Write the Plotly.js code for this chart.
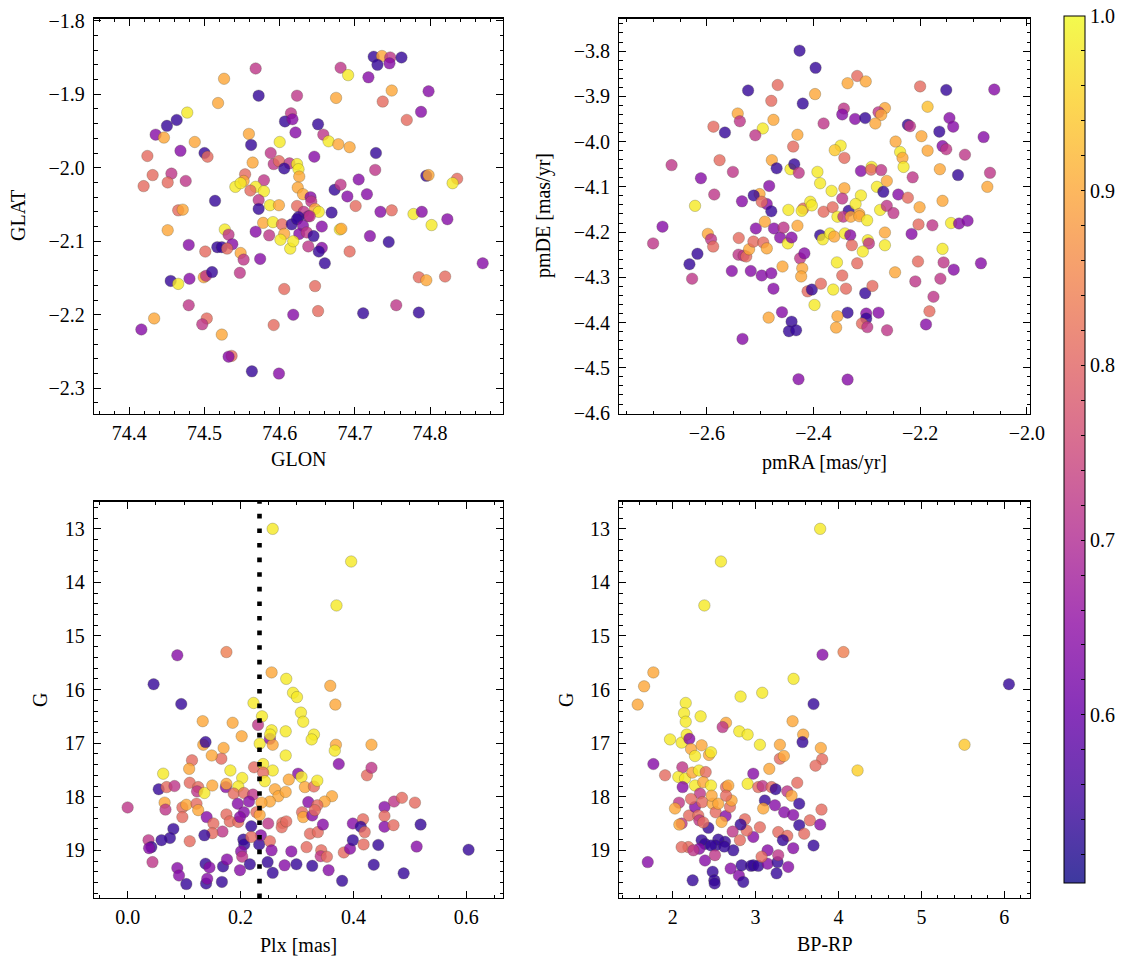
<!DOCTYPE html>
<html>
<head>
<meta charset="utf-8">
<script src="https://cdn.plot.ly/plotly-3.0.1.min.js"></script>
<style>html,body{margin:0;padding:0;background:#fff;}#chart{width:1133px;height:965px;}</style>
</head>
<body>
<div id="chart"></div>
<script>
// ---------------- DATA ----------------
// Panel A: sky position
const glon = [74.725,74.736,74.747,74.730,74.746,74.762,74.568,74.681,74.691,74.718,74.526,74.749,74.798,74.572,74.623,74.675,74.737,74.518,74.477,74.788,
74.615,74.607,74.617,74.769,74.463,74.450,74.651,74.435,74.446,74.621,74.658,74.559,74.600,74.665,74.678,74.487,74.693,74.562,74.468,74.500,
74.504,74.424,74.728,74.588,74.646,74.564,74.592,74.599,74.613,74.623,74.606,74.625,74.626,74.727,74.431,74.456,74.554,74.419,74.451,74.475,
74.795,74.798,74.836,74.830,74.705,74.552,74.541,74.579,74.548,74.568,74.579,74.561,74.624,74.673,74.681,74.690,74.716,74.631,74.641,74.642,
74.514,74.572,74.587,74.599,74.572,74.465,74.471,74.623,74.647,74.652,74.669,74.701,74.734,74.749,74.778,74.789,74.823,74.632,74.638,74.625,
74.451,74.527,74.532,74.578,74.591,74.603,74.616,74.623,74.631,74.640,74.656,74.568,74.586,74.606,74.626,74.636,74.645,74.601,74.614,74.618,
74.638,74.656,74.652,74.660,74.680,74.682,74.720,74.745,74.802,74.479,74.517,74.523,74.537,74.530,74.548,74.552,74.574,74.501,74.693,74.870,
74.455,74.465,74.480,74.499,74.502,74.510,74.547,74.606,74.647,74.785,74.795,74.820,74.479,74.755,74.433,74.416,74.503,74.497,74.523,74.592,
74.618,74.651,74.711,74.785,74.536,74.532,74.563,74.599];
const glat = [-1.849,-1.848,-1.850,-1.860,-1.858,-1.850,-1.865,-1.864,-1.874,-1.877,-1.879,-1.895,-1.896,-1.902,-1.902,-1.905,-1.910,-1.912,-1.925,-1.924,
-1.926,-1.937,-1.934,-1.935,-1.935,-1.943,-1.941,-1.955,-1.959,-1.952,-1.955,-1.954,-1.965,-1.964,-1.968,-1.965,-1.972,-1.969,-1.977,-1.980,
-1.985,-1.984,-1.980,-1.980,-1.985,-1.993,-1.995,-1.991,-1.994,-1.995,-2.001,-2.002,-2.012,-2.003,-2.010,-2.008,-2.009,-2.025,-2.020,-2.018,
-2.011,-2.010,-2.015,-2.021,-2.016,-2.018,-2.026,-2.017,-2.021,-2.026,-2.032,-2.031,-2.027,-2.030,-2.023,-2.039,-2.036,-2.036,-2.040,-2.046,
-2.045,-2.044,-2.051,-2.051,-2.056,-2.058,-2.057,-2.052,-2.056,-2.060,-2.061,-2.052,-2.060,-2.058,-2.063,-2.060,-2.070,-2.060,-2.066,-2.067,
-2.085,-2.084,-2.091,-2.075,-2.074,-2.077,-2.077,-2.070,-2.079,-2.066,-2.080,-2.087,-2.092,-2.090,-2.090,-2.088,-2.093,-2.098,-2.110,-2.100,
-2.107,-2.109,-2.114,-2.130,-2.084,-2.083,-2.093,-2.101,-2.078,-2.105,-2.108,-2.108,-2.104,-2.110,-2.116,-2.125,-2.124,-2.114,-2.114,-2.130,
-2.154,-2.158,-2.151,-2.149,-2.147,-2.142,-2.143,-2.165,-2.161,-2.149,-2.153,-2.148,-2.187,-2.187,-2.205,-2.220,-2.205,-2.213,-2.227,-2.214,
-2.200,-2.195,-2.198,-2.197,-2.256,-2.257,-2.277,-2.280];
const probSky = [0.54,0.90,0.72,0.54,0.64,0.54,0.72,0.72,0.98,0.64,0.90,0.90,0.64,0.54,0.72,0.90,0.81,0.90,0.98,0.64,
0.72,0.54,0.64,0.81,0.54,0.54,0.54,0.64,0.90,0.64,0.72,0.90,0.98,0.98,0.90,0.90,0.90,0.54,0.64,0.54,
0.81,0.81,0.54,0.72,0.64,0.90,0.72,0.81,0.72,0.98,0.54,0.98,0.90,0.72,0.81,0.72,0.81,0.81,0.81,0.72,
0.54,0.90,0.81,0.98,0.64,0.90,0.98,0.72,0.98,0.98,0.98,0.81,0.90,0.54,0.72,0.64,0.64,0.90,0.64,0.72,
0.54,0.72,0.98,0.90,0.54,0.81,0.90,0.81,0.90,0.98,0.54,0.81,0.64,0.81,0.98,0.64,0.64,0.72,0.64,0.54,
0.90,0.98,0.72,0.90,0.98,0.81,0.54,0.54,0.64,0.72,0.64,0.64,0.72,0.90,0.64,0.72,0.54,0.98,0.98,0.98,
0.72,0.64,0.54,0.54,0.98,0.90,0.64,0.54,0.98,0.64,0.54,0.54,0.64,0.81,0.90,0.72,0.64,0.81,0.81,0.64,
0.54,0.98,0.64,0.90,0.72,0.54,0.72,0.81,0.81,0.81,0.90,0.81,0.72,0.72,0.90,0.64,0.81,0.72,0.90,0.81,
0.64,0.81,0.54,0.54,0.81,0.64,0.54,0.64];

// Panel B: proper motions
const pmra = [-2.426,-2.396,-2.318,-2.336,-2.302,-2.467,-2.5225,-2.200,-2.151,-2.061,-2.397,-2.479,-2.420,-2.186,-2.343,-2.346,-2.266,-2.278,-2.273,-2.542,
-2.538,-2.475,-2.322,-2.303,-2.284,-2.381,-2.5875,-2.566,-2.495,-2.509,-2.430,-2.223,-2.219,-2.164,-2.145,-2.138,-2.1975,-2.081,-2.246,-2.349,
-2.360,-2.438,-2.342,-2.2375,-2.233,-2.231,-2.186,-2.158,-2.151,-2.116,-2.666,-2.576,-2.551,-2.611,-2.478,-2.469,-2.443,-2.436,-2.4275,-2.3925,
-2.3875,-2.311,-2.291,-2.292,-2.273,-2.2625,-2.214,-2.163,-2.129,-2.069,-2.074,-2.281,-2.269,-2.241,-2.223,-2.366,-2.342,-2.311,-2.346,-2.483,
-2.501,-2.512,-2.586,-2.534,-2.622,-2.4875,-2.497,-2.479,-2.447,-2.419,-2.422,-2.406,-2.403,-2.381,-2.364,-2.334,-2.321,-2.314,-2.275,-2.2625,
-2.250,-2.201,-2.158,
-2.683,-2.7006,-2.598,-2.592,-2.588,-2.6175,-2.6325,-2.6275,-2.553,-2.540,-2.5406,-2.531,-2.526,-2.5206,-2.5125,-2.508,-2.5175,-2.497,-2.494,-2.4875,
-2.491,-2.479,-2.475,-2.474,-2.4625,-2.456,-2.458,-2.448,-2.441,-2.430,-2.425,-2.417,-2.421,-2.423,-2.411,-2.403,-2.398,-2.386,-2.3875,-2.3825,
-2.369,-2.361,-2.355,-2.344,-2.330,-2.341,-2.331,-2.328,-2.318,-2.356,-2.346,-2.363,-2.339,-2.314,-2.2994,-2.2981,-2.296,-2.3075,-2.303,-2.2894,
-2.266,-2.266,-2.247,-2.216,-2.203,-2.177,-2.142,-2.127,-2.111,-2.158,-2.156,-2.137,-2.086,-2.204,-2.209,-2.162,-2.175,-2.1825,-2.189,-2.278,
-2.301,-2.301,-2.309,-2.299,-2.262,-2.336,-2.355,-2.3575,-2.459,-2.441,-2.446,-2.4325,-2.484,-2.533,-2.428,-2.336];
const pmde = [-3.799,-3.837,-3.855,-3.871,-3.867,-3.875,-3.887,-3.878,-3.886,-3.885,-3.895,-3.910,-3.916,-3.923,-3.927,-3.940,-3.926,-3.935,-3.941,-3.938,
-3.955,-3.952,-3.950,-3.948,-3.960,-3.960,-3.967,-3.980,-3.971,-3.986,-3.985,-3.963,-3.966,-3.978,-3.948,-3.967,-3.988,-3.990,-4.000,-4.009,
-4.019,-4.011,-4.036,-4.023,-4.036,-4.056,-4.020,-4.010,-4.017,-4.029,-4.052,-4.041,-4.067,-4.081,-4.041,-4.059,-4.061,-4.050,-4.069,-4.067,
-4.092,-4.065,-4.056,-4.062,-4.063,-4.087,-4.079,-4.061,-4.074,-4.069,-4.100,-4.100,-4.111,-4.117,-4.124,-4.109,-4.103,-4.119,-4.126,-4.098,
-4.116,-4.119,-4.117,-4.132,-4.142,-4.138,-4.133,-4.154,-4.151,-4.148,-4.153,-4.133,-4.141,-4.155,-4.145,-4.153,-4.138,-4.160,-4.151,-4.142,
-4.158,-4.145,-4.131,
-4.188,-4.225,-4.204,-4.216,-4.232,-4.248,-4.271,-4.303,-4.286,-4.213,-4.250,-4.252,-4.254,-4.238,-4.221,-4.192,-4.286,-4.296,-4.223,-4.236,
-4.177,-4.291,-4.325,-4.192,-4.212,-4.190,-4.276,-4.225,-4.212,-4.186,-4.258,-4.247,-4.280,-4.298,-4.331,-4.327,-4.361,-4.314,-4.207,-4.216,
-4.203,-4.210,-4.166,-4.166,-4.166,-4.203,-4.207,-4.229,-4.269,-4.267,-4.296,-4.327,-4.325,-4.165,-4.174,-4.218,-4.225,-4.243,-4.335,-4.319,
-4.201,-4.229,-4.289,-4.204,-4.183,-4.185,-4.180,-4.181,-4.175,-4.237,-4.267,-4.283,-4.269,-4.265,-4.309,-4.303,-4.343,-4.375,-4.404,-4.378,
-4.380,-4.391,-4.402,-4.410,-4.417,-4.378,-4.386,-4.411,-4.377,-4.398,-4.419,-4.417,-4.389,-4.436,-4.525,-4.526];
const probPm = [0.54,0.54,0.81,0.90,0.90,0.81,0.54,0.81,0.54,0.64,0.90,0.81,0.54,0.93,0.72,0.64,0.90,0.72,0.90,0.90,
0.72,0.90,0.64,0.54,0.90,0.72,0.81,0.54,0.98,0.72,0.90,0.54,0.72,0.54,0.64,0.64,0.90,0.64,0.90,0.98,
0.94,0.81,0.81,0.98,0.90,0.98,0.90,0.64,0.72,0.72,0.72,0.81,0.72,0.64,0.90,0.54,0.98,0.54,0.72,0.98,
0.98,0.64,0.98,0.81,0.72,0.90,0.72,0.90,0.54,0.72,0.90,0.98,0.54,0.64,0.81,0.98,0.90,0.98,0.72,0.64,
0.90,0.54,0.72,0.64,0.98,0.64,0.81,0.54,0.98,0.81,0.98,0.98,0.98,0.81,0.81,0.54,0.98,0.90,0.98,0.72,
0.72,0.90,0.90,
0.64,0.72,0.90,0.72,0.81,0.54,0.54,0.72,0.64,0.81,0.72,0.72,0.81,0.90,0.81,0.64,0.64,0.64,0.81,0.90,
0.90,0.64,0.64,0.64,0.64,0.72,0.90,0.98,0.64,0.90,0.72,0.64,0.90,0.90,0.81,0.54,0.98,0.81,0.54,0.98,
0.98,0.90,0.98,0.72,0.90,0.98,0.64,0.81,0.81,0.98,0.81,0.98,0.81,0.90,0.98,0.98,0.72,0.98,0.54,0.81,
0.90,0.98,0.90,0.64,0.81,0.72,0.98,0.64,0.64,0.98,0.72,0.64,0.64,0.81,0.72,0.72,0.72,0.81,0.64,0.64,
0.64,0.54,0.81,0.72,0.72,0.54,0.90,0.90,0.64,0.54,0.54,0.54,0.90,0.64,0.64,0.64];

// Panel C: parallax vs G
const plx = [0.257,0.396,0.370,0.088,0.175,0.046,0.095,0.255,0.281,0.293,0.300,0.359,0.368,0.223,0.238,0.307,0.311,0.133,0.186,0.231,
0.255,0.280,0.202,0.234,0.252,0.257,0.2525,0.330,0.326,0.369,0.367,0.432,0.134,0.138,0.170,0.166,0.149,0.114,0.109,0.063,
0.182,0.203,0.224,0.240,0.257,0.240,0.243,0.280,0.302,0.308,0.2855,0.314,0.330,0.336,0.374,0.424,0.432,0.055,0.069,0.083,
0.110,0.125,0.123,0.136,0.150,0.174,0.175,0.196,0.188,0.206,0.222,0.261,0.267,0.280,0.252,0.237,0.362,0.349,0.320,0.336,
0.000,0.0655,0.067,0.097,0.104,0.122,0.125,0.140,0.195,0.215,0.206,0.228,0.234,0.175,0.181,0.196,0.199,0.152,0.097,0.309,
0.311,0.327,0.3316,0.274,0.273,0.281,0.249,0.219,0.168,0.150,0.136,0.110,0.081,0.075,0.060,0.037,0.042,0.038,0.044,0.088,
0.091,0.104,0.139,0.141,0.138,0.145,0.167,0.169,0.176,0.199,0.205,0.2065,0.201,0.203,0.2165,0.233,0.236,0.219,0.252,0.255,
0.248,0.257,0.278,0.290,0.299,0.317,0.327,0.323,0.337,0.346,0.343,0.342,0.353,0.356,0.380,0.383,0.394,0.399,0.399,0.417,
0.413,0.420,0.418,0.444,0.436,0.455,0.455,0.455,0.471,0.472,0.486,0.509,0.519,0.512,0.489,0.604];
const gPlx = [13.00,13.61,14.43,15.36,15.30,15.90,16.27,15.68,15.80,16.06,16.14,15.93,16.28,16.25,16.50,16.43,16.60,16.59,16.62,16.66,
16.76,16.78,16.87,17.01,16.92,17.03,16.84,16.84,16.93,17.03,17.14,17.03,17.03,16.98,17.09,17.29,17.23,17.32,17.48,17.57,
17.51,17.65,17.45,17.39,17.51,17.55,17.71,17.23,17.57,17.63,17.68,17.82,17.81,17.70,17.39,17.60,17.46,17.86,17.82,17.80,
17.74,17.82,17.90,17.93,17.79,17.82,17.76,17.81,17.94,17.93,17.96,17.86,17.99,17.91,18.09,18.11,17.99,18.09,18.10,18.16,
18.20,18.11,18.24,18.20,18.15,18.13,18.25,18.38,18.13,18.09,18.29,18.29,18.34,18.33,18.46,18.47,18.38,18.50,18.38,18.29,
18.38,18.35,18.25,18.49,18.57,18.46,18.50,18.55,18.65,18.68,18.72,18.83,18.60,18.77,18.81,18.81,18.94,18.96,19.22,19.33,
19.47,19.63,19.62,19.53,19.25,19.32,19.59,19.30,19.17,19.37,18.80,18.89,19.02,19.12,19.26,18.89,18.72,18.75,18.83,19.00,
19.22,19.42,19.28,19.02,19.26,18.94,19.29,18.69,18.66,18.52,19.00,19.11,19.12,19.37,19.57,19.04,18.97,18.81,18.50,18.42,
18.56,18.66,18.89,18.90,19.27,18.19,18.36,18.56,18.53,18.09,18.02,18.11,18.52,18.93,19.43,18.99];
const probPlx = [0.98,0.98,0.98,0.64,0.84,0.54,0.54,0.90,0.98,0.98,0.98,0.90,0.90,0.98,0.98,0.98,0.98,0.90,0.90,0.72,
0.98,0.98,0.90,0.98,0.64,0.90,0.98,0.98,0.98,0.90,0.98,0.90,0.90,0.54,0.90,0.81,0.90,0.81,0.90,0.98,
0.98,0.98,0.81,0.98,0.98,0.81,0.98,0.98,0.64,0.98,0.90,0.90,0.81,0.98,0.64,0.81,0.72,0.54,0.81,0.72,
0.81,0.81,0.72,0.98,0.90,0.64,0.90,0.98,0.81,0.81,0.72,0.90,0.90,0.90,0.90,0.90,0.90,0.90,0.64,0.81,
0.72,0.90,0.72,0.81,0.90,0.81,0.90,0.64,0.64,0.64,0.64,0.81,0.90,0.81,0.81,0.81,0.64,0.81,0.81,0.81,
0.90,0.64,0.81,0.81,0.81,0.81,0.72,0.54,0.72,0.81,0.54,0.81,0.54,0.54,0.54,0.72,0.54,0.64,0.72,0.64,
0.64,0.54,0.54,0.64,0.54,0.64,0.54,0.54,0.64,0.64,0.54,0.54,0.64,0.72,0.54,0.54,0.64,0.81,0.81,0.64,
0.54,0.54,0.64,0.64,0.54,0.81,0.54,0.81,0.81,0.64,0.81,0.72,0.81,0.64,0.54,0.81,0.64,0.54,0.64,0.81,
0.54,0.81,0.81,0.54,0.54,0.64,0.81,0.64,0.81,0.72,0.81,0.81,0.54,0.64,0.54,0.54];
const plxMean = 0.2336;

// Panel D: colour-magnitude diagram
const bprp = [3.779,2.582,2.382,3.807,4.060,6.056,1.767,1.655,1.578,3.458,3.080,2.819,2.157,2.137,2.157,2.337,3.699,3.446,2.643,2.602,
5.52,4.23,
2.803,2.904,1.968,2.108,2.169,2.201,2.221,2.349,2.269,2.438,2.462,3.052,3.293,3.574,3.566,3.787,3.293,3.341,3.803,3.723,
3.165,1.767,1.908,2.116,2.068,2.149,2.237,2.317,2.398,2.120,2.269,2.369,2.462,2.643,2.671,2.904,2.972,3.032,3.084,3.193,
3.241,3.382,3.434,3.502,3.112,3.092,3.233,3.345,3.454,3.526,3.795,3.655,3.779,3.526,3.273,3.382,3.329,3.454,3.586,3.699,
3.052,2.972,2.892,2.871,2.819,2.723,2.811,2.731,2.631,2.550,2.518,2.622,2.430,2.349,2.390,2.462,2.321,2.189,2.249,2.390,
2.510,2.482,2.502,2.506,2.241,1.699,2.699,2.799,2.851,2.831,2.944,2.972,3.032,3.145,3.145,3.072,3.265,3.253,3.394,3.273,
2.076,2.028,2.108,2.080,2.197,2.269,2.329,2.221,2.357,2.309,2.321,2.482,2.518,2.470,2.550,2.639,2.691,2.711,2.643,2.590,
2.369,2.108];
const gCmd = [13.00,13.61,14.43,15.35,15.30,15.90,15.68,15.94,16.28,15.80,16.06,16.13,16.25,16.44,16.60,16.50,16.27,16.59,16.62,16.70,
17.03,17.51,
16.78,16.84,16.93,16.99,16.84,16.92,17.11,17.04,17.24,17.22,17.17,17.03,17.03,16.84,16.98,17.09,17.29,17.24,17.30,17.42,
17.48,17.39,17.60,17.45,17.63,17.66,17.55,17.51,17.54,17.82,17.79,17.73,17.79,17.82,17.79,17.76,17.57,17.82,17.80,17.82,
17.86,17.90,17.98,17.74,18.07,18.22,18.16,18.29,18.34,18.13,18.24,18.44,18.52,18.53,18.66,18.73,18.81,18.96,18.69,18.91,
18.57,18.75,18.63,18.42,18.52,18.65,18.81,19.00,18.84,18.80,18.91,18.93,18.58,18.81,18.88,18.91,18.97,18.94,19.00,19.19,
19.09,19.40,19.56,19.62,19.56,19.22,19.34,19.47,19.59,19.28,19.29,19.28,19.29,19.25,19.00,19.12,19.22,19.43,19.31,19.09,
18.11,18.22,18.50,18.52,18.35,18.19,17.94,18.04,18.10,18.35,18.44,18.13,18.29,17.98,18.13,18.36,18.19,18.07,17.98,18.47,
18.48,18.94];
const probCmd = [0.98,0.98,0.98,0.64,0.84,0.54,0.90,0.90,0.90,0.98,0.98,0.98,0.98,0.98,0.98,0.98,0.54,0.90,0.90,0.72,
0.94,0.95,
0.98,0.98,0.98,0.98,0.98,0.64,0.90,0.90,0.98,0.90,0.98,0.98,0.90,0.90,0.54,0.90,0.81,0.90,0.81,0.81,
0.90,0.64,0.81,0.72,0.98,0.98,0.90,0.98,0.81,0.64,0.98,0.90,0.98,0.81,0.90,0.98,0.64,0.81,0.72,0.81,
0.54,0.72,0.90,0.81,0.54,0.90,0.64,0.64,0.64,0.54,0.81,0.81,0.64,0.54,0.81,0.81,0.54,0.64,0.81,0.54,
0.81,0.64,0.81,0.81,0.54,0.72,0.81,0.54,0.54,0.54,0.54,0.54,0.54,0.54,0.54,0.54,0.64,0.81,0.72,0.64,
0.72,0.54,0.54,0.54,0.54,0.64,0.64,0.64,0.54,0.54,0.54,0.54,0.54,0.64,0.64,0.81,0.54,0.54,0.64,0.72,
0.72,0.90,0.72,0.90,0.81,0.64,0.72,0.81,0.81,0.81,0.72,0.90,0.81,0.90,0.90,0.64,0.81,0.90,0.81,0.90,
0.81,0.81];

// colour scale (matplotlib "plasma", alpha 0.8) and range
const plasmaStops = ['#0d0887','#41049d','#6a00a8','#8f0da4','#b12a90','#cc4778','#e16462','#f2844b','#fca636','#fcce25','#f0f921'];
const probMin = 0.504, probMax = 1.0;
const cbarTicks = [0.52,0.54,0.56,0.58,0.6,0.62,0.64,0.66,0.68,0.7,0.72,0.74,0.76,0.78,0.8,0.82,0.84,0.86,0.88,0.9,0.92,0.94,0.96,0.98,1.0];

// ---------------- BUILD ----------------
function hexA(h, a){ const r=parseInt(h.slice(1,3),16), g=parseInt(h.slice(3,5),16), b=parseInt(h.slice(5,7),16); return `rgba(${r},${g},${b},${a})`; }
const cscale = plasmaStops.map((c,i)=>[i/(plasmaStops.length-1), hexA(c,0.8)]);
const FONT = 'Liberation Serif, Times New Roman, serif';
const W = 1133, H = 965;

function mk(x, y, p, xa, ya, showScale){
  const m = {color:p, colorscale:cscale, cmin:probMin, cmax:probMax, size:11.5,
    line:{width:0.6, color:'rgba(70,70,50,0.45)'}, showscale:!!showScale};
  if (showScale){
    m.colorbar = {x:1064/W, xanchor:'left', xpad:0, y:1-15.7/H, yanchor:'top', ypad:0,
      len:(883-15.7)/H, lenmode:'fraction', thickness:21, thicknessmode:'pixels',
      outlinewidth:1, outlinecolor:'#000', ticks:'inside', ticklen:4, tickwidth:1, tickcolor:'#000',
      tickvals:cbarTicks, ticktext:cbarTicks.map(v=>(Math.abs(v*10-Math.round(v*10))<1e-6 && v>=0.59)? v.toFixed(1):''),
      tickfont:{family:FONT, size:20, color:'#000'}};
  }
  return {type:'scatter', mode:'markers', x:x, y:y, xaxis:xa, yaxis:ya, marker:m, hoverinfo:'skip'};
}

const data = [
  mk(glon, glat, probSky, 'x', 'y', true),
  mk(pmra, pmde, probPm, 'x2', 'y2', false),
  mk(plx, gPlx, probPlx, 'x3', 'y3', false),
  mk(bprp, gCmd, probCmd, 'x4', 'y4', false)
];

function ax(domain, range, dtick, mdtick, fmt, anchor, standoff){
  return {domain:domain, range:range, anchor:anchor, dtick:dtick, tick0:0, tickformat:fmt,
    ticks:'inside', ticklen:7, tickwidth:1, tickcolor:'#000', mirror:'allticks',
    showline:true, linecolor:'#000', linewidth:1.2, showgrid:false, zeroline:false,
    tickfont:{family:FONT, size:20, color:'#000'}, ticklabelstandoff:standoff,
    minor:{ticks:'inside', ticklen:3.5, tickwidth:1, tickcolor:'#000', dtick:mdtick, tick0:0, showgrid:false}};
}
const xL=[94/W, 503/W], xR=[619.3/W, 1030/W];
const yT=[1-414/H, 1-18.5/H], yB=[1-898/H, 1-501.5/H];

const layout = {
  width:W, height:H, margin:{l:0,r:0,t:0,b:0}, paper_bgcolor:'#fff', plot_bgcolor:'#fff',
  showlegend:false, font:{family:FONT, color:'#000'},
  xaxis: ax(xL, [74.353,74.897], 0.1, 0.02, '.1f', 'y', 1),
  yaxis: ax(yT, [-2.335,-1.797], 0.1, 0.02, '.1f', 'x', 4),
  xaxis2: ax(xR, [-2.764,-1.994], 0.2, 0.05, '.1f', 'y2', 1),
  yaxis2: ax(yT, [-4.602,-3.728], 0.1, 0.02, '.1f', 'x2', 4),
  xaxis3: ax(xL, [-0.0596,0.665], 0.2, 0.05, '.1f', 'y3', 1),
  yaxis3: ax(yB, [19.89,12.49], 1, 0.2, 'd', 'x3', 4),
  xaxis4: ax(xR, [1.356,6.31], 1, 0.2, 'd', 'y4', 1),
  yaxis4: ax(yB, [19.89,12.49], 1, 0.2, 'd', 'x4', 4),
  shapes:[{type:'line', xref:'x3', yref:'y3 domain', x0:plxMean, x1:plxMean, y0:0, y1:1,
    line:{color:'#000', width:4.6, dash:'4.6px,10px'}, layer:'above'}],
  annotations:[
    {text:'GLON', x:298.5/W, y:1-459/H},
    {text:'pmRA [mas/yr]', x:824.6/W, y:1-462/H},
    {text:'Plx [mas]', x:298.5/W, y:1-945/H},
    {text:'BP-RP', x:824.6/W, y:1-944/H},
    {text:'GLAT', x:18/W, y:1-216/H, textangle:-90},
    {text:'pmDE [mas/yr]', x:544/W, y:1-216/H, textangle:-90},
    {text:'G', x:40/W, y:1-700/H, textangle:-90},
    {text:'G', x:566/W, y:1-700/H, textangle:-90}
  ].map(a=>Object.assign({xref:'paper', yref:'paper', showarrow:false, xanchor:'center', yanchor:'middle',
      font:{family:FONT, size:20, color:'#000'}}, a))
};

Plotly.newPlot('chart', data, layout, {staticPlot:true, displayModeBar:false});
</script>
</body>
</html>
